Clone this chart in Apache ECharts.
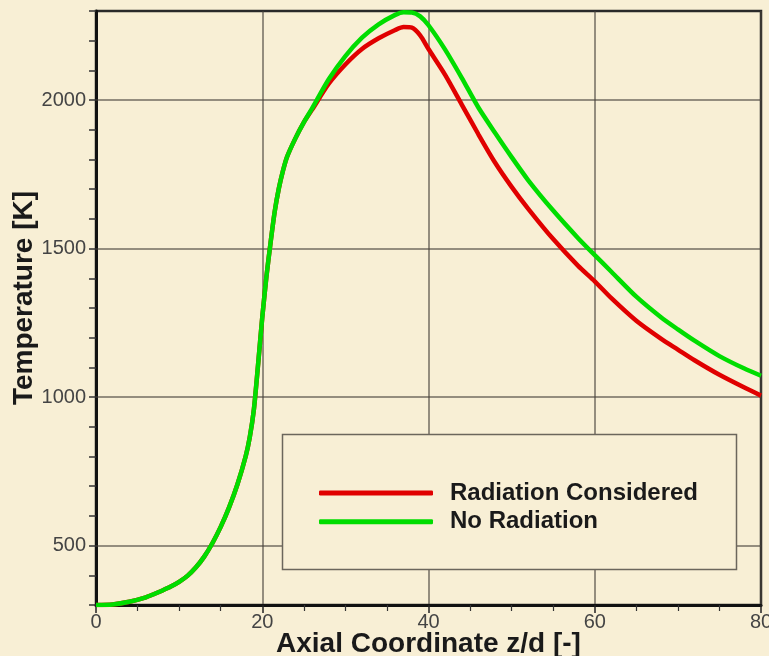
<!DOCTYPE html>
<html>
<head>
<meta charset="utf-8">
<script src="https://cdn.jsdelivr.net/npm/echarts@6/dist/echarts.min.js"></script>
<style>
html,body{margin:0;padding:0;background:#f8efd5;}
#chart{width:769px;height:656px;}
</style>
</head>
<body>
<div id="chart"></div>
<script>
// Axial coordinate z/d
var zd = [0,2,4,6,7,8,9,10,11,12,13,14,15,16,17,18,18.5,19,19.5,20,20.5,21,21.5,22,22.5,23,24,25,26,28,30,32,34,36,37,38,39,40,42,44,46,48,50,52,55,58,60,62,65,68,70,72,75,78,80];
// Temperature [K], radiation considered
var radiationConsidered = [300,302,311,326,337,349,362,378,398,426,462,508,563,628,705,800,865,960,1110,1268,1405,1520,1625,1703,1763,1810,1872,1925,1968,2055,2120,2172,2208,2236,2246,2244,2218,2172,2085,1985,1885,1790,1708,1634,1532,1442,1390,1333,1257,1196,1160,1124,1075,1032,1005];
// Temperature [K], no radiation
var noRadiation = [300,302,311,326,337,349,362,378,398,426,462,508,563,628,705,800,865,960,1110,1268,1405,1520,1625,1703,1763,1810,1872,1925,1972,2070,2148,2210,2255,2287,2296,2295,2282,2252,2170,2075,1975,1890,1808,1730,1628,1535,1478,1422,1338,1268,1228,1190,1138,1096,1072];
var seriesNames = ['Radiation Considered', 'No Radiation'];
var yGridValues = [500, 1000, 1500, 2000];
var xName = 'Axial Coordinate z/d [-]';
var yName = 'Temperature [K]';

function pairs(xs, ys){ return xs.map(function(x,i){ return [x, ys[i]]; }); }

var chart = echarts.init(document.getElementById('chart'), null, {renderer:'canvas'});
var FONT = '"Liberation Sans", Arial, sans-serif';
var gridCol = 'rgba(70,66,58,0.75)';

chart.setOption({
  backgroundColor: '#f8efd5',
  animation: false,
  grid: {left:96, right:8, top:11, bottom:51, outerBoundsMode:'none', containLabel:false,
    show:true, borderColor:'#2a2a2a', borderWidth:2.5, backgroundColor:'transparent'},
  xAxis: {
    type:'value', min:0, max:80, interval:20,
    name: xName, nameLocation:'middle', nameGap:25, nameMoveOverlap:false,
    nameTextStyle:{fontFamily:FONT, fontSize:28, fontWeight:'bold', color:'#1a1a1a'},
    axisLine:{show:true, onZero:false, lineStyle:{color:'#111', width:3}},
    axisTick:{show:true, inside:false, length:8, lineStyle:{color:'#222', width:1.5}},
    minorTick:{show:true, splitNumber:4, length:6, lineStyle:{color:'#333', width:1.2}},
    axisLabel:{fontFamily:FONT, fontSize:20, color:'#444', margin:7},
    splitLine:{show:true, lineStyle:{color:gridCol, width:1.5}}
  },
  yAxis: {
    type:'value', min:300, max:2300, interval:100,
    name: yName, nameLocation:'middle', nameGap:58, nameRotate:90, nameMoveOverlap:false,
    nameTextStyle:{fontFamily:FONT, fontSize:28, fontWeight:'bold', color:'#1a1a1a', padding:[0,0,0,20]},
    axisLine:{show:true, onZero:false, lineStyle:{color:'#111', width:3}},
    axisTick:{show:true, inside:false, length:7, lineStyle:{color:'#333', width:1.5}},
    axisLabel:{fontFamily:FONT, fontSize:20, color:'#444', margin:10,
      formatter:function(v){ return yGridValues.indexOf(v) >= 0 ? String(v) : ''; }},
    splitLine:{show:false}
  },
  legend: {
    data: seriesNames, orient:'vertical', left:314, top:476, z:100, padding:5,
    icon:'roundRect', itemWidth:114, itemHeight:5, itemGap:4.7,
    textStyle:{fontFamily:FONT, fontSize:24, fontWeight:'bold', color:'#1a1a1a', padding:[0,0,0,12], lineHeight:24},
    selectedMode:false
  },
  graphic: [{
    type:'rect', z:50, silent:true,
    shape:{x:282.5, y:434.5, width:454, height:135},
    style:{fill:'#f8efd5', stroke:'#6b665c', lineWidth:1.5}
  }],
  series: [
    {
      name: seriesNames[0], type:'line', data: pairs(zd, radiationConsidered),
      smooth:0.25, symbol:'none', z:2,
      lineStyle:{color:'#e00000', width:4.5}, itemStyle:{color:'#e00000'},
      markLine:{silent:true, symbol:['none','none'], z:1, label:{show:false},
        lineStyle:{color:gridCol, width:1.5, type:'solid'},
        data: yGridValues.map(function(v){ return {yAxis:v}; })}
    },
    {
      name: seriesNames[1], type:'line', data: pairs(zd, noRadiation),
      smooth:0.25, symbol:'none', z:3,
      lineStyle:{color:'#00dd00', width:4.5}, itemStyle:{color:'#00dd00'}
    }
  ]
});
</script>
</body>
</html>
